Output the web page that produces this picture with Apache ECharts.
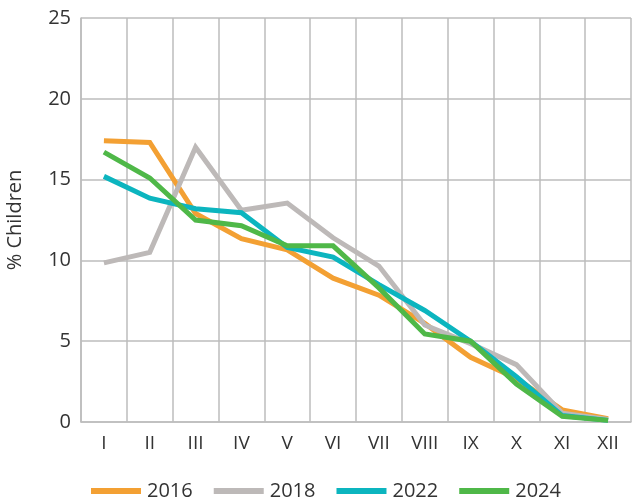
<!DOCTYPE html>
<html>
<head>
<meta charset="utf-8">
<script src="https://cdn.jsdelivr.net/npm/echarts@6/dist/echarts.min.js"></script>
<style>html,body{margin:0;padding:0;background:#fff}#c{width:632px;height:501px}</style>
</head>
<body>
<div id="c"></div>
<script>
var categories = ['I','II','III','IV','V','VI','VII','VIII','IX','X','XI','XII'];
var s2016 = [17.4, 17.3, 12.9, 11.35, 10.65, 8.9, 7.85, 6.1, 4.0, 2.7, 0.75, 0.2];
var s2018 = [9.85, 10.5, 17.0, 13.1, 13.55, 11.4, 9.65, 6.0, 4.85, 3.55, 0.55, 0.15];
var s2022 = [15.2, 13.85, 13.2, 12.95, 10.8, 10.2, 8.5, 6.9, 5.0, 2.8, 0.4, 0.1];
var s2024 = [16.7, 15.1, 12.5, 12.15, 10.9, 10.9, 8.3, 5.45, 5.0, 2.35, 0.35, 0.1];
var yTicks = [0, 5, 10, 15, 20, 25];
var seriesNames = ['2016','2018','2022','2024'];
var colors = ['#F3A033','#BDB9B8','#0CB5BF','#4FB848'];
var seriesData = [s2016, s2018, s2022, s2024];

var chart = echarts.init(document.getElementById('c'));
var font = '"Open Sans", "Noto Sans", sans-serif';
chart.setOption({
  animation: false,
  textStyle: { fontFamily: font },
  grid: { left: 81, right: 1, top: 18, bottom: 79, containLabel: false, outerBoundsMode: 'none' },
  legend: {
    top: 476,
    left: 86,
    icon: 'rect',
    itemWidth: 50,
    itemHeight: 6,
    itemGap: 21,
    textStyle: { fontSize: 20, color: '#333', fontFamily: font, padding: [0, 0, 0, 1] },
    data: seriesNames
  },
  xAxis: {
    type: 'category',
    data: categories,
    boundaryGap: true,
    axisLine: { show: true, lineStyle: { color: '#bdbdbd', width: 1.5 } },
    axisTick: { show: false },
    splitLine: { show: true, lineStyle: { color: '#bdbdbd', width: 1.5 } },
    axisLabel: { fontSize: 19, color: '#333', margin: 12, fontFamily: font, interval: 0 }
  },
  yAxis: {
    type: 'value',
    min: yTicks[0],
    max: yTicks[yTicks.length - 1],
    interval: 5,
    name: '% Children',
    nameLocation: 'middle',
    nameGap: 56,
    nameRotate: 90,
    nameTextStyle: { fontSize: 20, color: '#333', fontFamily: font },
    axisLine: { show: true, lineStyle: { color: '#bdbdbd', width: 1.5 } },
    axisTick: { show: false },
    splitLine: { show: true, lineStyle: { color: '#bdbdbd', width: 1.5 } },
    axisLabel: { fontSize: 20, color: '#333', margin: 10, fontFamily: font }
  },
  series: seriesNames.map(function (n, i) {
    return {
      name: n,
      type: 'line',
      data: seriesData[i],
      showSymbol: false,
      symbol: 'none',
      lineStyle: { color: colors[i], width: 5, join: 'miter' },
      itemStyle: { color: colors[i] }
    };
  })
});
</script>
</body>
</html>
